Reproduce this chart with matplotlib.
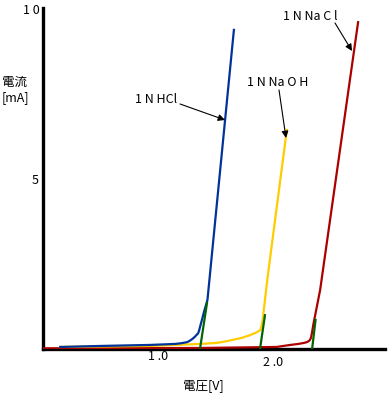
import matplotlib
matplotlib.use("Agg")
import matplotlib.pyplot as plt

plt.rcParams['font.family'] = ['Noto Sans CJK JP', 'DejaVu Sans']

# HCl (blue)
hcl_v = [0.15, 0.5, 0.93, 1.15, 1.20, 1.25, 1.27, 1.30, 1.32, 1.35, 1.36, 1.37, 1.385, 1.40, 1.43, 1.66]
hcl_i = [0.06, 0.09, 0.12, 0.15, 0.17, 0.20, 0.23, 0.30, 0.36, 0.47, 0.58, 0.71, 0.90, 1.10, 1.45, 9.44]
# NaOH (yellow)
naoh_v = [0.15, 0.93, 1.37, 1.51, 1.58, 1.65, 1.73, 1.80, 1.85, 1.89, 1.90, 1.91, 1.95, 2.12]
naoh_i = [0.06, 0.09, 0.15, 0.18, 0.22, 0.27, 0.33, 0.41, 0.48, 0.56, 0.68, 0.86, 2.04, 6.48]
# NaCl (red)
nacl_v = [0.0, 1.37, 2.03, 2.15, 2.22, 2.27, 2.30, 2.32, 2.33, 2.34, 2.35, 2.41, 2.74]
nacl_i = [0.02, 0.03, 0.06, 0.12, 0.15, 0.18, 0.21, 0.26, 0.33, 0.50, 0.71, 1.75, 9.67]
# tangent lines (green)
tan_hcl_v = [1.365, 1.426]
tan_hcl_i = [0.0, 1.36]
tan_naoh_v = [1.887, 1.93]
tan_naoh_i = [0.0, 1.0]
tan_nacl_v = [2.34, 2.37]
tan_nacl_i = [0.0, 0.86]

fig = plt.figure(figsize=(3.88, 3.95), dpi=100)
ax = fig.add_axes([43/388, 1 - 349/395, 342/388, (349 - 7.6)/395])
ax.set_xlim(0, 342/115)
ax.set_ylim(0, 10.1)

ax.plot(nacl_v, nacl_i, color='#AA0000', lw=1.6, zorder=3)
ax.plot(naoh_v, naoh_i, color='#FFCC00', lw=1.6, zorder=3)
ax.plot(hcl_v, hcl_i, color='#003399', lw=1.6, zorder=3)
for v, i in [(tan_hcl_v, tan_hcl_i), (tan_naoh_v, tan_naoh_i), (tan_nacl_v, tan_nacl_i)]:
    ax.plot(v, i, color='#006600', lw=1.6, zorder=4)

for s in ['top', 'right']:
    ax.spines[s].set_visible(False)
ax.spines['left'].set_linewidth(2.4)
ax.spines['bottom'].set_linewidth(2.4)
ax.set_xticks([])
ax.set_yticks([])

fs = 9
fig.text(31/388, 1 - 10/395, '1 0', fontsize=fs, ha='center', va='center')
fig.text(35/388, 1 - 180/395, '5', fontsize=fs, ha='center', va='center')
fig.text(158/388, 1 - 357/395, '1 .0', fontsize=fs, ha='center', va='center')
fig.text(273/388, 1 - 362/395, '2 .0', fontsize=fs, ha='center', va='center')
fig.text(203/388, 1 - 386/395, '電圧[V]', fontsize=fs, ha='center', va='center')
fig.text(2/388, 1 - 90/395, '電流\n[mA]', fontsize=fs, ha='left', va='center', linespacing=1.3)

arrow = dict(arrowstyle='-|>', color='black', lw=0.8, mutation_scale=10, shrinkA=0, shrinkB=0)
def px(x, y):
    return ((x - 43) / 115, (349 - y) / 33.8)

ax.annotate('1 N HCl', xy=px(156, 100), fontsize=fs, ha='center', va='center',
            annotation_clip=False)
ax.annotate('', xy=px(225, 120), xytext=px(180, 104), arrowprops=arrow,
            annotation_clip=False)
ax.annotate('1 N Na O H', xy=px(278, 83), fontsize=fs, ha='center', va='center',
            annotation_clip=False)
ax.annotate('', xy=px(286, 138), xytext=px(279, 90), arrowprops=arrow,
            annotation_clip=False)
ax.annotate('1 N Na C l', xy=px(310, 17), fontsize=fs, ha='center', va='center',
            annotation_clip=False)
ax.annotate('', xy=px(352, 51), xytext=px(335, 23), arrowprops=arrow,
            annotation_clip=False)

fig.savefig('out.png', dpi=100)
